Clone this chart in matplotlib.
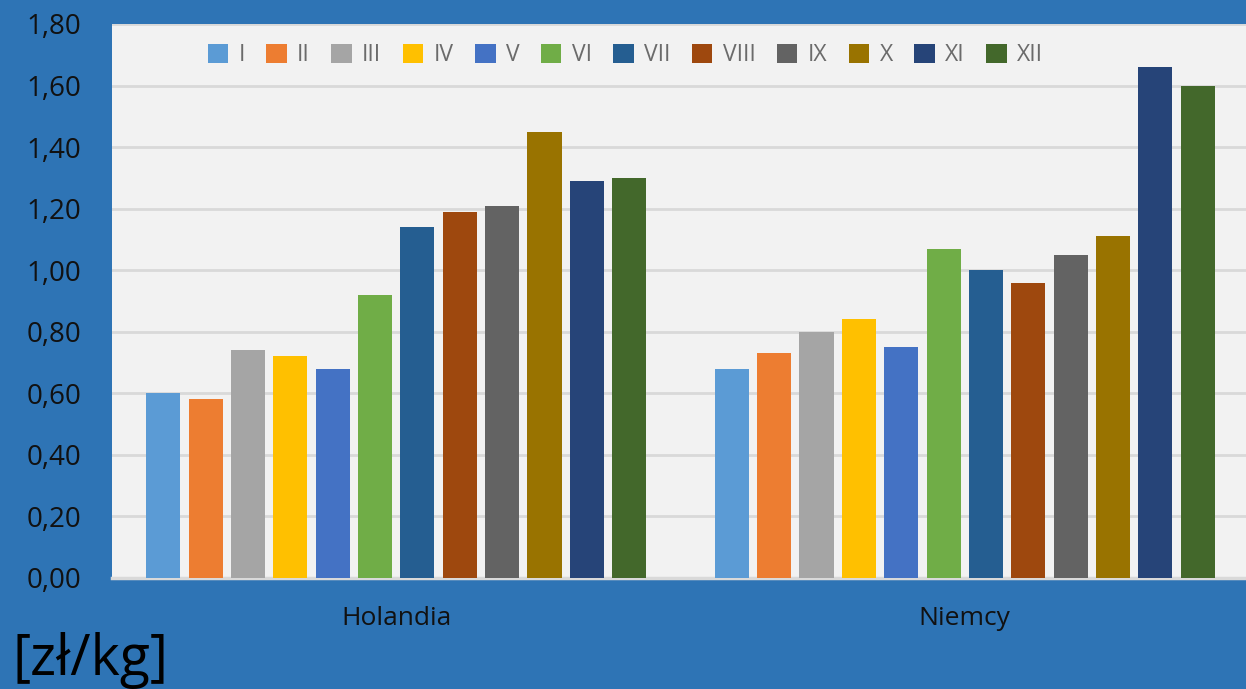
import numpy as np
import matplotlib.pyplot as plt
from matplotlib.ticker import FuncFormatter

countries = ["Holandia", "Niemcy"]
months = ["I", "II", "III", "IV", "V", "VI", "VII", "VIII", "IX", "X", "XI", "XII"]
holandia = [0.60, 0.58, 0.74, 0.72, 0.68, 0.92, 1.14, 1.19, 1.21, 1.45, 1.29, 1.30]
niemcy = [0.68, 0.73, 0.80, 0.84, 0.75, 1.07, 1.00, 0.96, 1.05, 1.11, 1.66, 1.60]
colors = ["#5B9BD5", "#ED7D31", "#A5A5A5", "#FFC000", "#4472C4", "#70AD47",
          "#255E91", "#9E480E", "#636363", "#997300", "#264478", "#43682B"]

plt.rcParams['font.family'] = ['Open Sans', 'DejaVu Sans']

fig = plt.figure(figsize=(12.46, 6.89), dpi=100)
fig.patch.set_facecolor("#2E74B5")
ax = fig.add_axes([112 / 1246, 111 / 689, 1137 / 1246, 554 / 689])
ax.set_facecolor("#F2F2F2")

x = np.arange(len(countries))
slot = 0.0745
width = 0.06
for i, m in enumerate(months):
    vals = [holandia[i], niemcy[i]]
    ax.bar(x + (i - 5.5) * slot, vals, width, color=colors[i], label=m, zorder=3)

ax.set_xlim(-0.5, 1.5)
ax.set_ylim(0, 1.8)
ax.set_yticks(np.arange(0, 1.81, 0.2))
ax.yaxis.set_major_formatter(FuncFormatter(lambda v, p: f"{v:.2f}".replace(".", ",")))
ax.set_xticks(x)
ax.set_xticklabels(countries)
ax.grid(axis="y", color="#D9D9D9", linewidth=2, zorder=0)
for s in ["top", "right", "left"]:
    ax.spines[s].set_visible(False)
ax.spines["bottom"].set_color("#D9D9D9")
ax.spines["bottom"].set_linewidth(2.5)
ax.tick_params(axis="y", length=0, pad=22, labelsize=20, colors="#111111")
ax.tick_params(axis="x", length=0, pad=20, labelsize=19, colors="#111111")

ax.legend(loc="upper left", bbox_to_anchor=(0.066, 1.003), ncol=12, frameon=False,
          handlelength=0.9, handleheight=0.9, handletextpad=0.45, columnspacing=0.93,
          fontsize=16.5, labelcolor="#6B6B6B")

fig.text(0.01, 0.0, "[zł/kg]", fontsize=40, color="black", ha="left", va="bottom")

fig.savefig("out.png", dpi=100, facecolor=fig.get_facecolor())
